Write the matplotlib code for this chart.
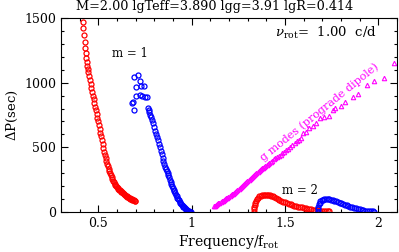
import numpy as np
import matplotlib
matplotlib.use('Agg')
import matplotlib.pyplot as plt
from matplotlib.ticker import MultipleLocator

plt.rcParams['font.family'] = 'DejaVu Serif'
plt.rcParams['mathtext.fontset'] = 'dejavuserif'

# m = 1, red branch (freq/frot, dP in sec)
m1_red_x = [0.417, 0.420, 0.423, 0.426, 0.429, 0.432, 0.435, 0.438, 0.441, 0.444,
            0.447, 0.451, 0.455, 0.459, 0.463, 0.467, 0.471, 0.475, 0.479, 0.483,
            0.487, 0.491, 0.495, 0.499, 0.503, 0.507, 0.511, 0.515, 0.519, 0.523,
            0.527, 0.531, 0.535, 0.539, 0.543, 0.547, 0.551, 0.555, 0.559, 0.563,
            0.567, 0.571, 0.575, 0.579, 0.583, 0.587, 0.591, 0.595, 0.599, 0.603,
            0.607, 0.611, 0.615, 0.619, 0.623, 0.627, 0.631, 0.635, 0.639, 0.643,
            0.647, 0.651, 0.655, 0.659, 0.663, 0.667, 0.671, 0.675, 0.679, 0.683,
            0.687, 0.691, 0.695, 0.698]
m1_red_y = [1467, 1420, 1372, 1318, 1266, 1228, 1192, 1160, 1130, 1106,
            1085, 1052, 1020, 988, 956, 925, 898, 871, 843, 815,
            786, 757, 728, 700, 672, 643, 614, 585, 556, 525,
            492, 466, 442, 418, 396, 374, 354, 335, 317, 300,
            284, 270, 256, 243, 231, 220, 210, 201, 193, 186,
            179, 173, 167, 162, 157, 152, 147, 142, 137, 132,
            127, 123, 119, 115, 111, 107, 104, 101, 98, 95,
            92, 89, 87, 85]

# m = 1, blue branch
m1_blue_x = [0.692, 0.710, 0.721, 0.703, 0.728, 0.742, 0.685, 0.680, 0.692, 0.703,
             0.721, 0.734, 0.752, 0.761,
             0.764, 0.769, 0.774, 0.779, 0.784, 0.789, 0.794, 0.799, 0.804, 0.809,
             0.814, 0.819, 0.824, 0.829, 0.834, 0.839, 0.844, 0.849, 0.854, 0.859,
             0.863, 0.867, 0.871, 0.875, 0.879, 0.883, 0.887, 0.891, 0.895, 0.899,
             0.903, 0.907, 0.911, 0.915, 0.919, 0.923, 0.927, 0.931, 0.935, 0.939,
             0.943, 0.947, 0.951, 0.955, 0.959, 0.963, 0.967, 0.971, 0.975, 0.979,
             0.983, 0.987, 0.991, 0.994]
m1_blue_y = [1046, 1060, 1015, 969, 975, 975, 853, 840, 789, 897,
             905, 897, 892, 887,
             802, 790, 772, 752, 732, 712, 686, 655, 628, 604,
             580, 553, 525, 500, 475, 449, 420, 393, 370, 350,
             333, 316, 303, 289, 270, 250, 230, 214, 199, 184,
             172, 160, 146, 132, 120, 110, 100, 90, 80, 71,
             63, 56, 49, 42, 36, 30, 24, 19, 15, 11,
             7, 4, 2, 0]

# prograde dipole g modes (magenta)
g_x = [1.119, 1.125, 1.131, 1.137, 1.143, 1.149, 1.155, 1.161, 1.167, 1.173,
       1.179, 1.185, 1.191, 1.197, 1.203, 1.209, 1.215, 1.221, 1.227, 1.233,
       1.239, 1.245, 1.251, 1.257, 1.263, 1.269, 1.275, 1.281, 1.287, 1.293,
       1.299, 1.305, 1.311, 1.317, 1.323, 1.329, 1.335, 1.341, 1.347, 1.353,
       1.359, 1.365, 1.371, 1.377, 1.383, 1.389, 1.395, 1.401, 1.408, 1.416,
       1.424, 1.432, 1.440, 1.449, 1.458, 1.467, 1.476, 1.486, 1.496, 1.506,
       1.517, 1.528, 1.539, 1.551, 1.563, 1.575, 1.587,
       1.594, 1.612, 1.630, 1.648, 1.666, 1.687, 1.710, 1.734, 1.755, 1.769,
       1.800, 1.821, 1.863, 1.893, 1.938, 1.979, 2.029, 2.083]
g_y = [46, 50, 55, 60, 66, 71, 77, 82, 88, 94,
       100, 106, 112, 118, 124, 130, 136, 143, 149, 156,
       164, 171, 178, 185, 192, 199, 206, 214, 222, 230,
       238, 246, 253, 261, 269, 277, 284, 292, 300, 307,
       314, 322, 330, 337, 344, 351, 358, 364, 371, 380,
       389, 397, 406, 414, 424, 434, 444, 455, 466, 478,
       490, 503, 517, 532, 548, 560, 575,
       608, 621, 647, 665, 686, 724, 737, 742, 789, 807,
       820, 853, 892, 910, 982, 1013, 1034, 1155]

# m = 2, red branch
m2_red_x = [1.334, 1.335, 1.336, 1.338, 1.341, 1.345, 1.350, 1.356, 1.363, 1.370,
            1.378, 1.386, 1.394, 1.402, 1.410, 1.418, 1.426, 1.434, 1.442, 1.450,
            1.460, 1.470, 1.480, 1.490, 1.500, 1.510, 1.520, 1.530, 1.540, 1.550,
            1.560, 1.570, 1.580, 1.590, 1.600, 1.610, 1.620, 1.630, 1.640, 1.650,
            1.660, 1.670, 1.680, 1.690, 1.700, 1.710, 1.720, 1.730, 1.736]
m2_red_y = [3, 20, 38, 55, 72, 88, 101, 112, 120, 126,
            130, 133, 135, 134, 132, 129, 126, 122, 117, 111,
            104, 96, 88, 80, 74, 68, 63, 58, 53, 49,
            45, 41, 38, 35, 32, 28, 25, 22, 20, 17,
            15, 13, 11, 10, 8, 7, 6, 5, 4]

# m = 2, blue branch
m2_blue_x = [1.675, 1.676, 1.678, 1.681, 1.685, 1.690, 1.696, 1.703, 1.711, 1.720,
             1.729, 1.738, 1.747, 1.756, 1.765, 1.774, 1.783, 1.792, 1.801, 1.810,
             1.820, 1.830, 1.840, 1.850, 1.860, 1.870, 1.880, 1.890, 1.900, 1.910,
             1.920, 1.930, 1.940, 1.950, 1.960, 1.970, 1.979]
m2_blue_y = [3, 20, 40, 58, 72, 82, 90, 95, 98, 99,
             99, 97, 94, 90, 86, 82, 78, 73, 68, 63,
             57, 52, 47, 42, 37, 32, 28, 24, 20, 17,
             14, 11, 9, 7, 5, 4, 3]

fig = plt.figure(figsize=(3.99, 2.52), dpi=100)
ax = fig.add_axes([61/399, 40/252, 336/399, 194/252])

ms = 3.6
mw = 0.9
ax.plot(m1_red_x, m1_red_y, 'o', mfc='none', mec='red', ms=ms, mew=mw)
ax.plot(m1_blue_x, m1_blue_y, 'o', mfc='none', mec='blue', ms=ms, mew=mw)
ax.plot(g_x, g_y, '^', mfc='none', mec='magenta', ms=3.2, mew=0.8)
ax.plot(m2_red_x, m2_red_y, 'o', mfc='none', mec='red', ms=ms, mew=mw)
ax.plot(m2_blue_x, m2_blue_y, 'o', mfc='none', mec='blue', ms=ms, mew=mw)

ax.set_xlim(0.3, 2.1)
ax.set_ylim(0, 1500)
ax.xaxis.set_minor_locator(MultipleLocator(0.1))
ax.yaxis.set_major_locator(MultipleLocator(500))
ax.yaxis.set_minor_locator(MultipleLocator(100))
ax.set_xticks([0.5, 1.0, 1.5, 2.0])
ax.set_xticklabels(['0.5', '1', '1.5', '2'])
ax.tick_params(which='both', direction='in', top=True, right=True, labelsize=9)
ax.tick_params(which='major', length=5, width=0.8)
ax.tick_params(which='minor', length=2.5, width=0.8)

ax.set_xlabel(r'Frequency/f$_{\rm rot}$', fontsize=10, labelpad=2)
ax.set_ylabel(r'$\Delta$P(sec)', fontsize=9.5, labelpad=3)

ax.text(0.67, 1222, 'm = 1', fontsize=8.5, ha='center', va='center')
ax.text(1.58, 165, 'm = 2', fontsize=8.5, ha='center', va='center')
ax.text(1.99, 1382, r'$\nu_{\rm rot}$=  1.00  c/d', fontsize=9.5, ha='right', va='center')
ax.text(1.683, 776, 'g modes (prograde dipole)', fontsize=8, color='magenta',
        rotation=39, ha='center', va='center', rotation_mode='anchor')

fig.text(215/399, 0.975, 'M=2.00 lgTeff=3.890 lgg=3.91 lgR=0.414', fontsize=9.2,
         ha='center', va='center')

fig.savefig('out.png', dpi=100)
plt.close()
